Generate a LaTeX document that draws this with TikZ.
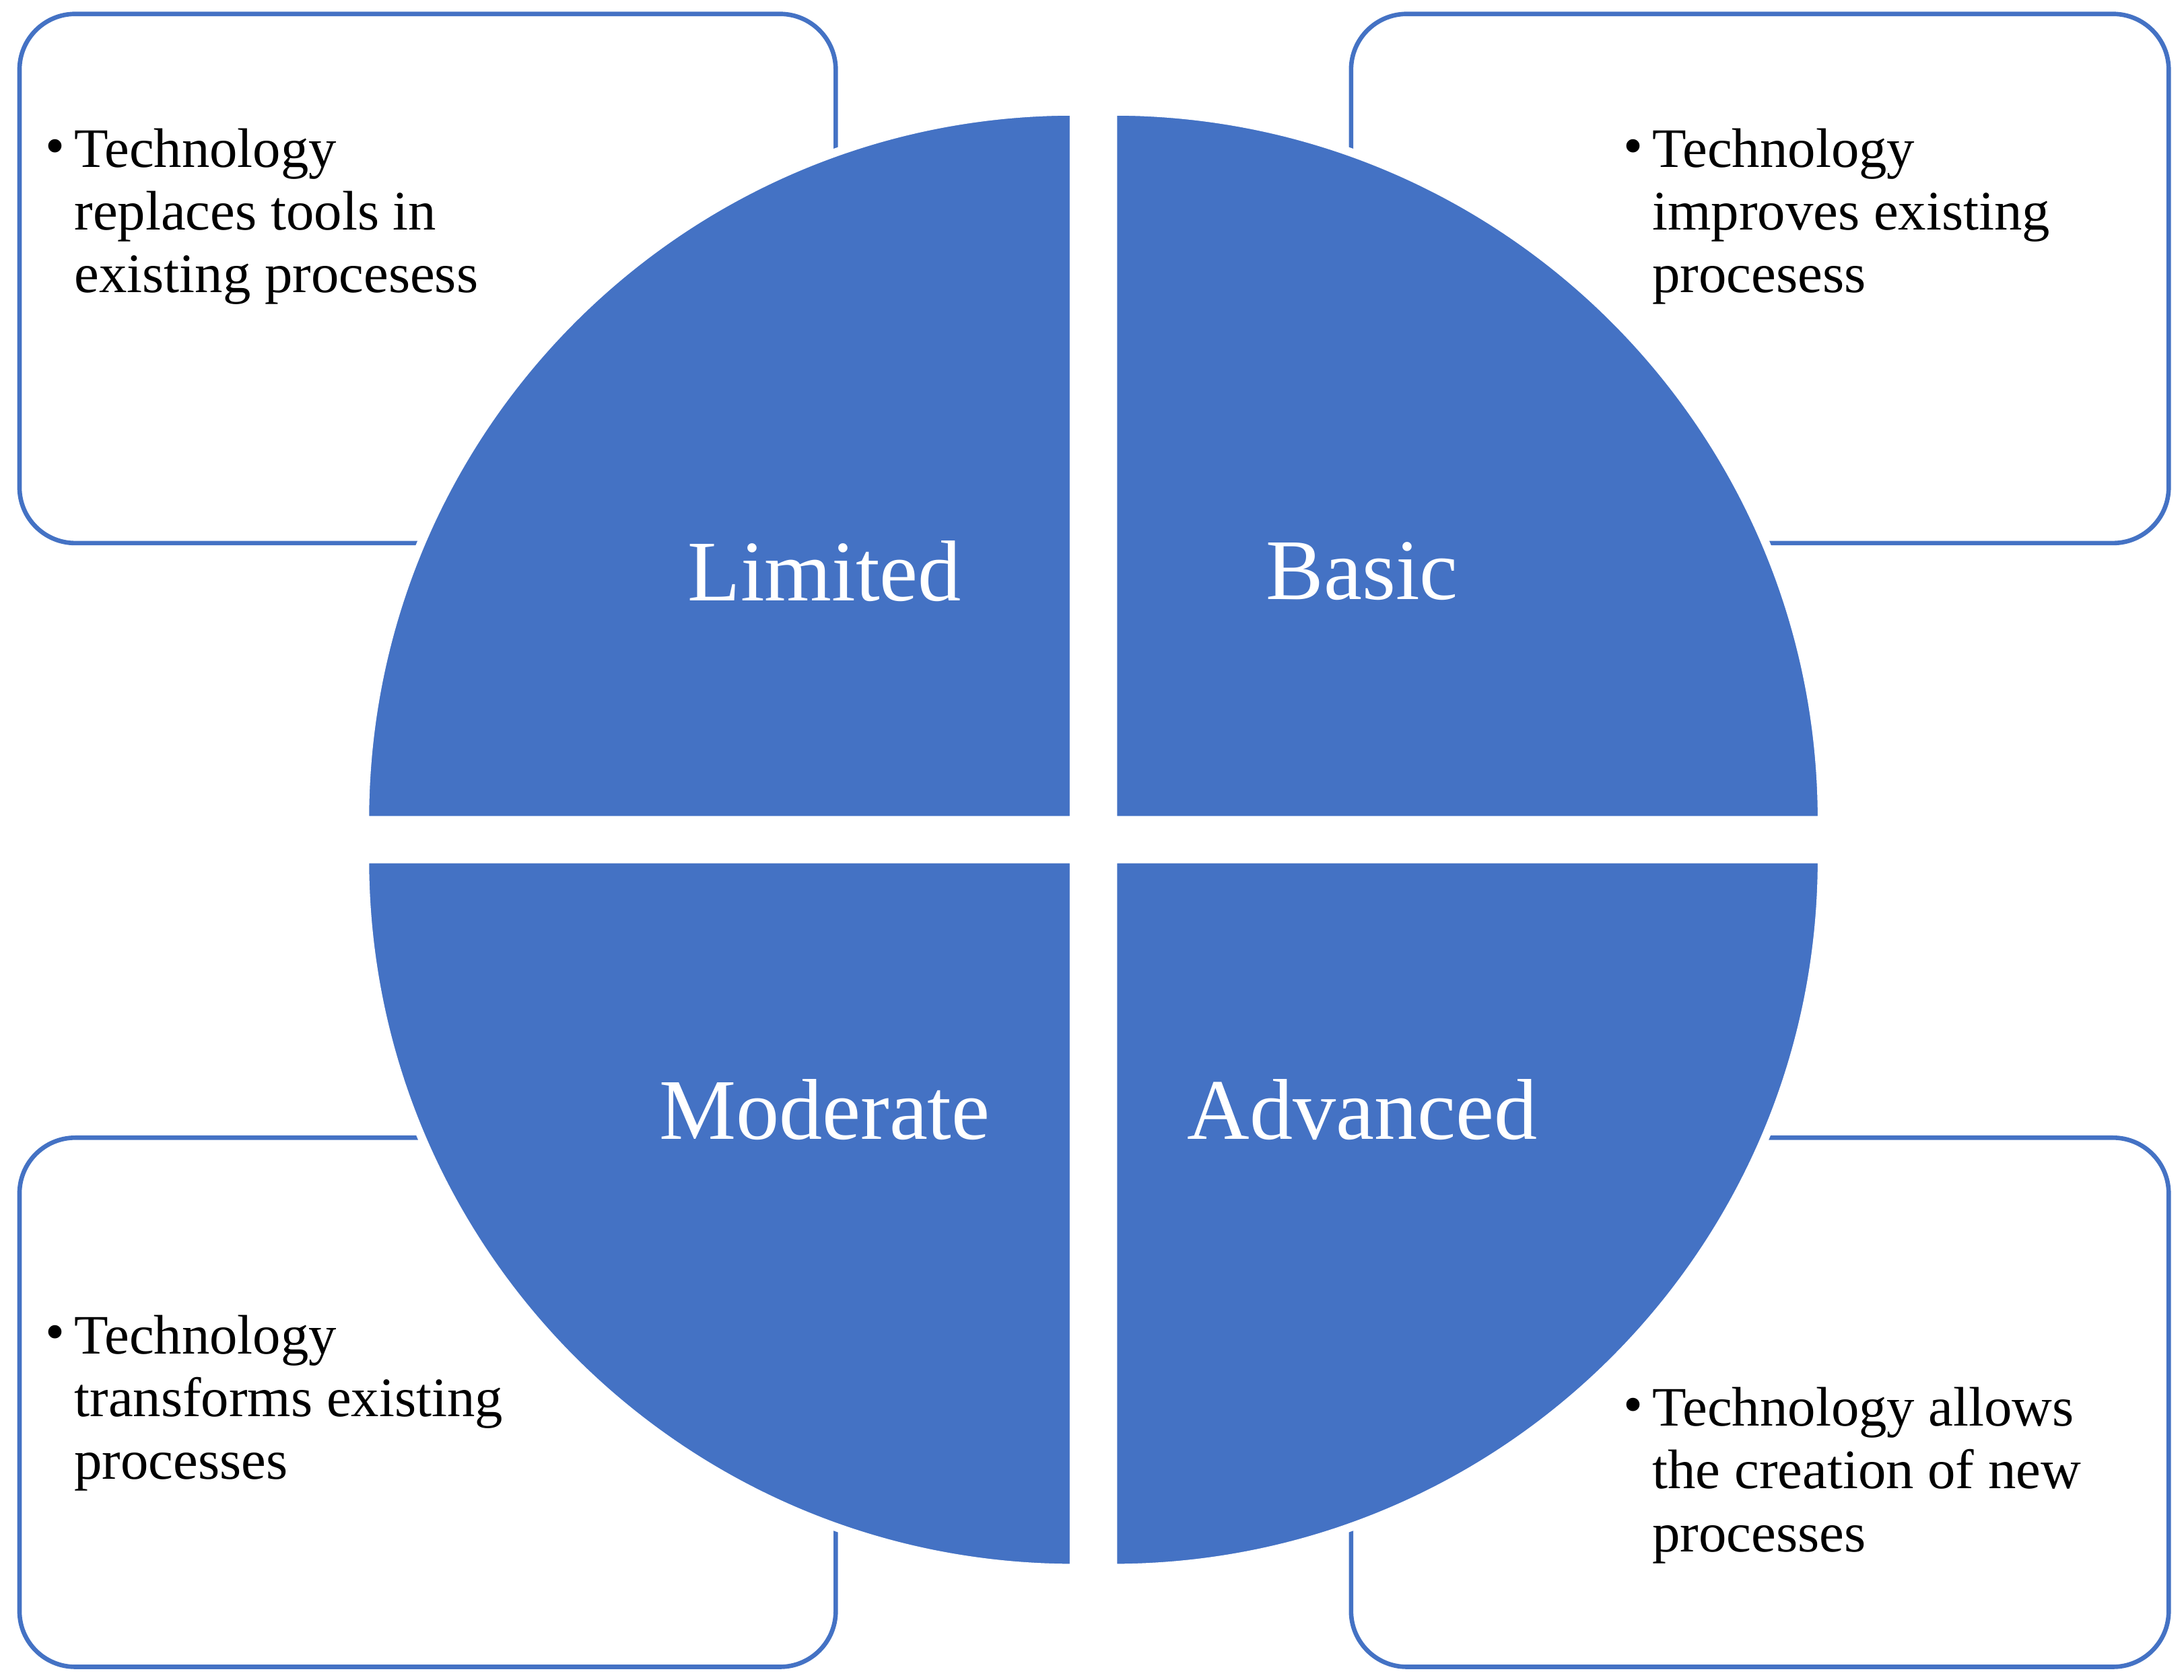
\documentclass[tikz,border=0pt]{standalone}
\usepackage{fontspec}
\setmainfont{Liberation Serif}
\definecolor{qblue}{HTML}{4472C4}
\begin{document}
\begin{tikzpicture}[x=1pt,y=1pt,
  box/.style={draw=qblue,line width=1.6pt,rounded corners=20pt,fill=white},
  quad/.style={fill=qblue,draw=white,line width=3pt},
  lab/.style={text=white,font=\fontsize{31}{36}\selectfont,inner sep=0pt},
  btxt/.style={anchor=north west,align=left,inner sep=0pt,font=\fontsize{20}{22.5}\selectfont},
  bul/.style={anchor=base west,inner sep=0pt,font=\fontsize{20}{22.5}\selectfont}]
\useasboundingbox[fill=white] (0,0) rectangle (784,-603);
\draw[box] (7,-5) rectangle (300,-195);
\draw[box] (485,-5) rectangle (778.5,-195);
\draw[box] (7,-408.5) rectangle (300,-598.5);
\draw[box] (485,-408.5) rectangle (778.5,-598.5);
\path[quad] (385.5,-294.5) -- ++(-254.5,0) arc (180:90:254.5) -- cycle;
\path[quad] (399.5,-294.5) -- ++(0,254.5) arc (90:0:254.5) -- cycle;
\path[quad] (385.5,-308.5) -- ++(-254.5,0) arc (180:270:254.5) -- cycle;
\path[quad] (399.5,-308.5) -- ++(0,-254.5) arc (270:360:254.5) -- cycle;
\node[lab] (l1) at (296,-205) {Limited};
\node[lab] (l2) at (489,-205) {Basic};
\node[lab] (l3) at (296,-398.5) {Moderate};
\node[lab] (l4) at (489,-398.5) {Advanced};
\node[bul] (b1) at (16,-59) {•};
\node[btxt] (t1) at (26.5,-46) {Technology\\replaces tools in\\existing procesess};
\node[bul] (b2) at (582.5,-59) {•};
\node[btxt] (t2) at (593,-46) {Technology\\improves existing\\procesess};
\node[bul] (b3) at (16,-485) {•};
\node[btxt] (t3) at (26.5,-472) {Technology\\transforms existing\\processes};
\node[bul] (b4) at (582.5,-511) {•};
\node[btxt] (t4) at (593,-498) {Technology allows\\the creation of new\\processes};
\end{tikzpicture}
\end{document}
